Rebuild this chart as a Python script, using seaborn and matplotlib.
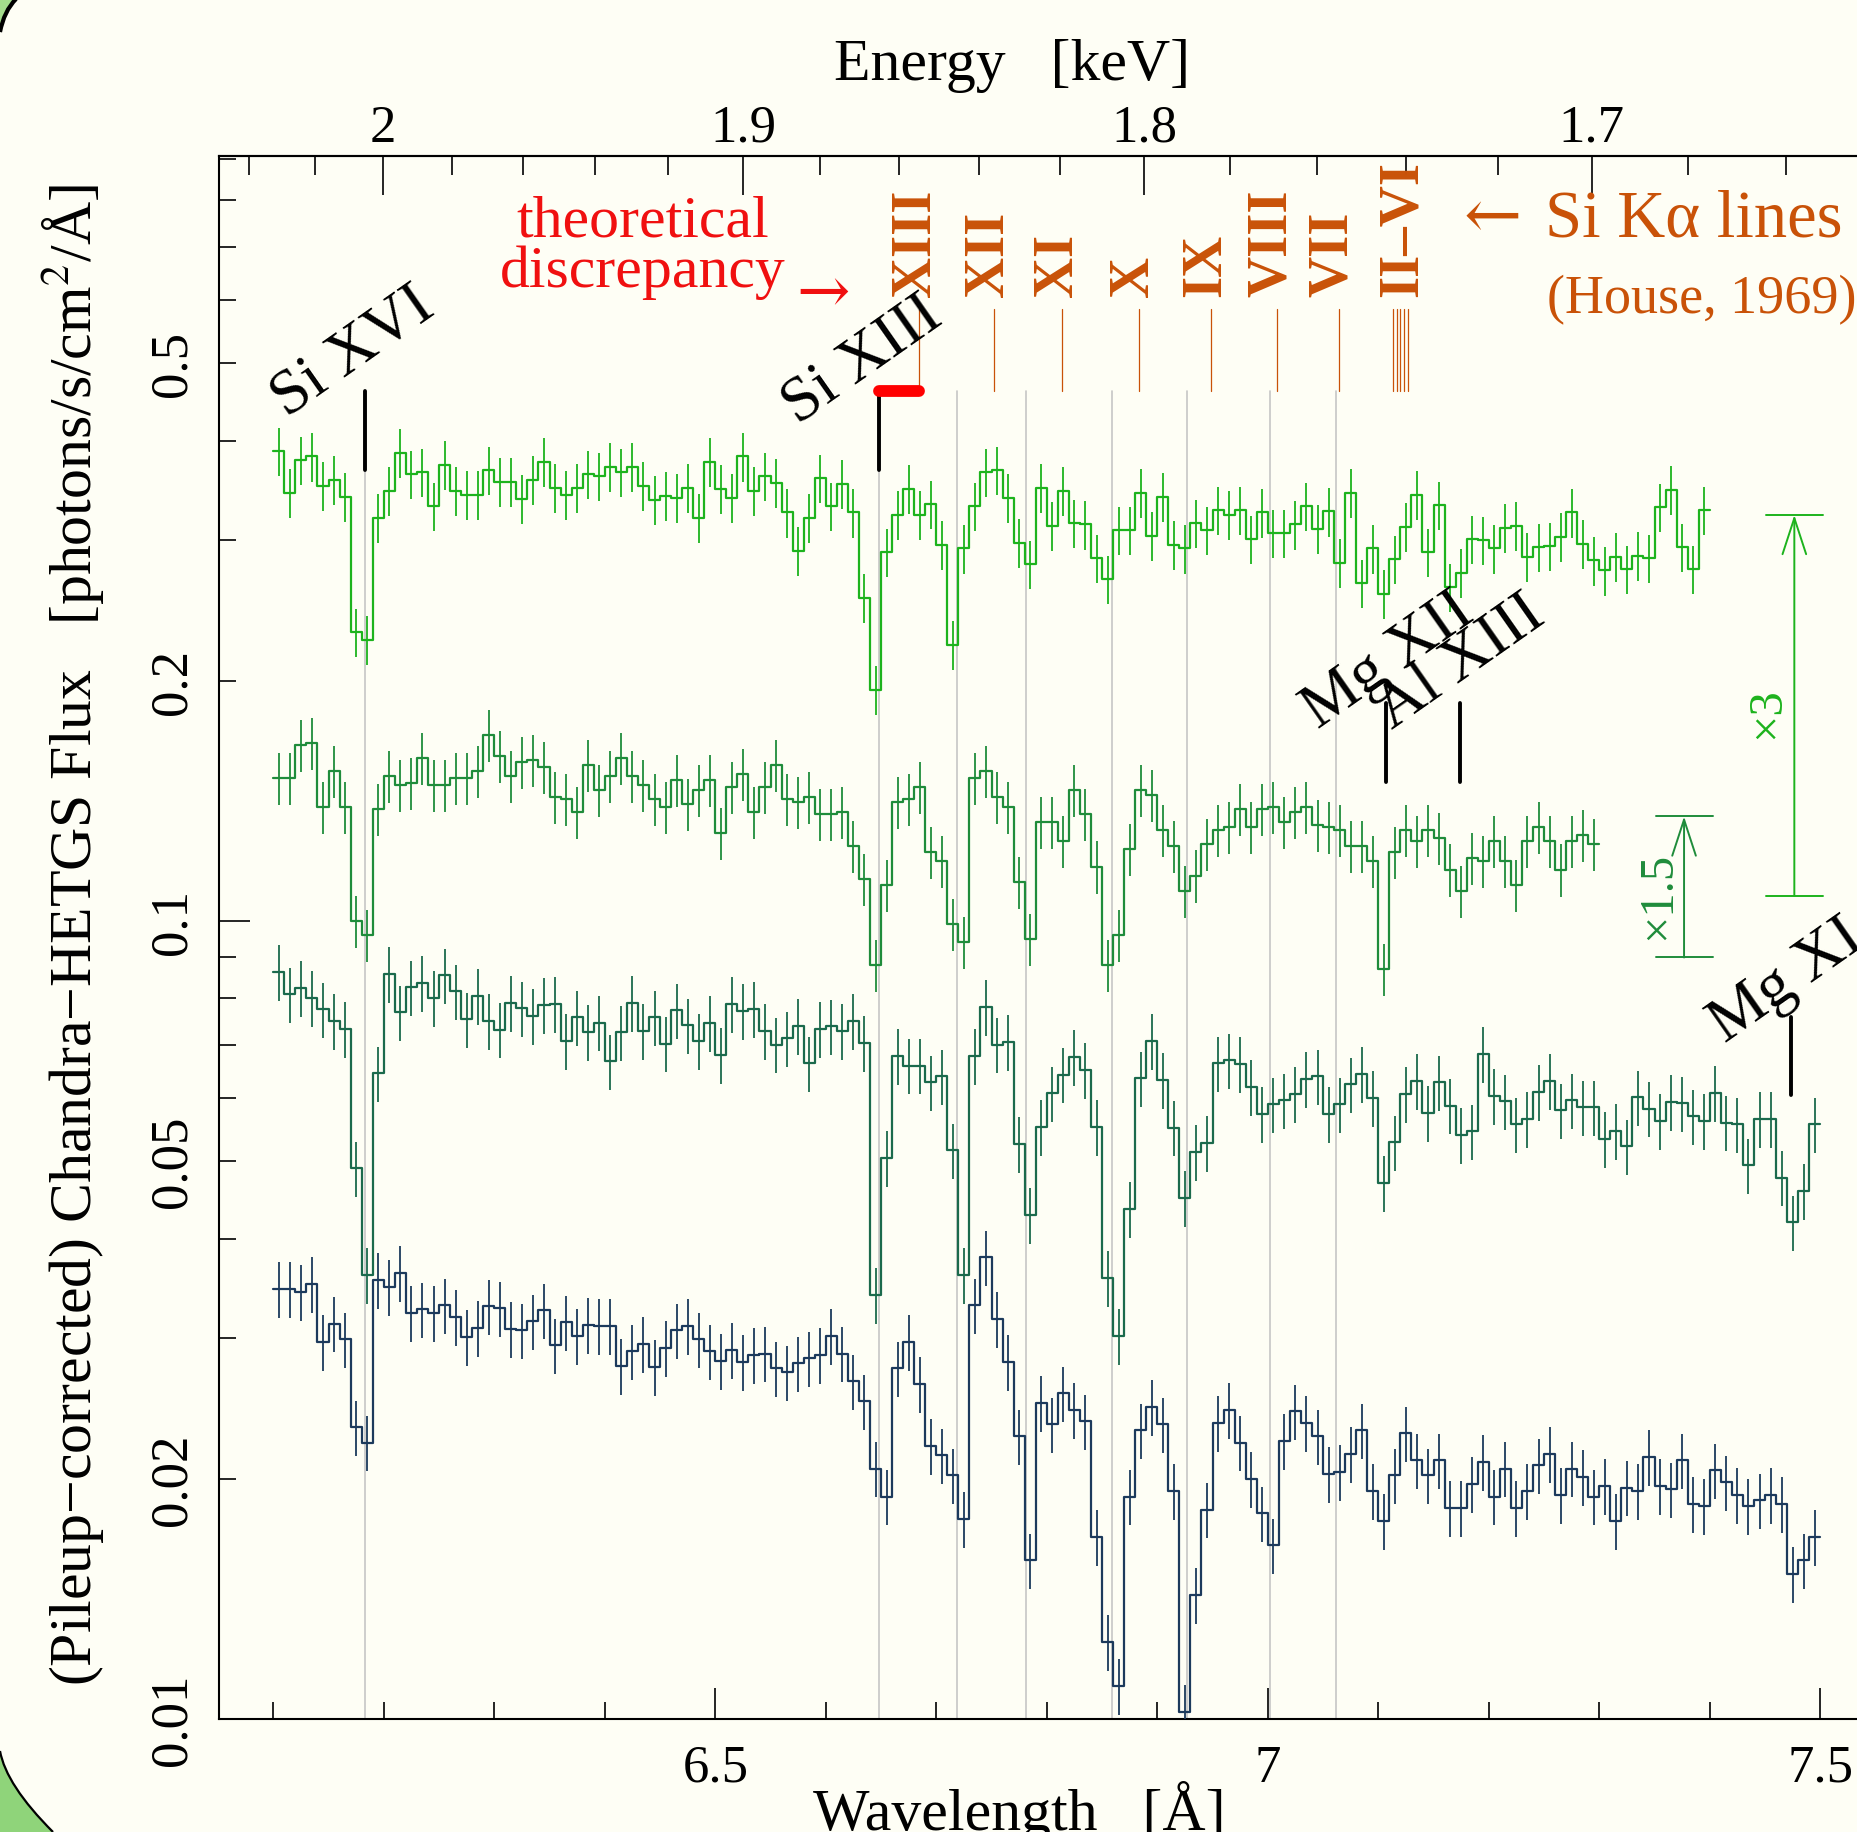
import numpy as np
import matplotlib
matplotlib.use("Agg")
import matplotlib.pyplot as plt
import seaborn as sns
from matplotlib.path import Path
from matplotlib.patches import PathPatch

# ---------------- data ----------------
BIN_WIDTH = 0.01        # Angstrom
LAMBDA_START = 6.10     # first bin edge of every spectrum
HC = 12.3984            # keV * Angstrom

# top spectrum (bright green), 6.10 - 7.40 A
flux_s1 = [0.388, 0.344, 0.378, 0.382, 0.351, 0.357, 0.340, 0.230, 0.225, 0.320,
           0.346, 0.386, 0.363, 0.365, 0.331, 0.373, 0.346, 0.342, 0.342, 0.367,
           0.355, 0.355, 0.338, 0.357, 0.376, 0.349, 0.342, 0.349, 0.363, 0.361,
           0.371, 0.365, 0.371, 0.351, 0.337, 0.341, 0.339, 0.349, 0.320, 0.376,
           0.348, 0.339, 0.382, 0.346, 0.361, 0.354, 0.325, 0.291, 0.320, 0.359,
           0.331, 0.353, 0.325, 0.254, 0.195, 0.290, 0.323, 0.348, 0.323, 0.333,
           0.296, 0.222, 0.293, 0.331, 0.365, 0.367, 0.339, 0.298, 0.280, 0.349,
           0.313, 0.346, 0.315, 0.314, 0.285, 0.268, 0.309, 0.309, 0.344, 0.304,
           0.340, 0.296, 0.293, 0.315, 0.309, 0.327, 0.323, 0.327, 0.301, 0.325,
           0.306, 0.306, 0.314, 0.331, 0.310, 0.326, 0.281, 0.344, 0.265, 0.293,
           0.257, 0.284, 0.312, 0.342, 0.290, 0.332, 0.262, 0.273, 0.301, 0.300,
           0.293, 0.311, 0.313, 0.286, 0.294, 0.295, 0.303, 0.325, 0.297, 0.283,
           0.275, 0.286, 0.276, 0.287, 0.285, 0.330, 0.347, 0.294, 0.276, 0.327]

# second spectrum (medium green), 6.10 - 7.30 A
flux_s2 = [0.151, 0.151, 0.166, 0.167, 0.139, 0.154, 0.139, 0.100, 0.096, 0.138,
           0.152, 0.148, 0.149, 0.160, 0.148, 0.148, 0.151, 0.151, 0.154, 0.171,
           0.161, 0.152, 0.158, 0.159, 0.156, 0.143, 0.142, 0.137, 0.157, 0.146,
           0.152, 0.160, 0.152, 0.148, 0.142, 0.139, 0.150, 0.140, 0.146, 0.150,
           0.129, 0.147, 0.153, 0.137, 0.147, 0.157, 0.142, 0.141, 0.143, 0.136,
           0.136, 0.137, 0.124, 0.113, 0.088, 0.111, 0.141, 0.142, 0.147, 0.122,
           0.119, 0.099, 0.094, 0.151, 0.154, 0.143, 0.139, 0.112, 0.095, 0.133,
           0.133, 0.126, 0.146, 0.136, 0.117, 0.088, 0.096, 0.123, 0.146, 0.144,
           0.130, 0.124, 0.109, 0.114, 0.125, 0.130, 0.131, 0.138, 0.131, 0.138,
           0.139, 0.133, 0.137, 0.139, 0.132, 0.131, 0.130, 0.124, 0.124, 0.119,
           0.087, 0.122, 0.130, 0.126, 0.130, 0.127, 0.116, 0.109, 0.120, 0.119,
           0.126, 0.119, 0.111, 0.126, 0.131, 0.126, 0.116, 0.126, 0.128, 0.125]

# third spectrum (teal green), 6.10 - 7.50 A
flux_s3 = [0.0864, 0.0809, 0.0825, 0.0801, 0.0775, 0.0750, 0.0732, 0.0490, 0.0360, 0.0644,
           0.0859, 0.0768, 0.0826, 0.0836, 0.0801, 0.0855, 0.0816, 0.0753, 0.0805, 0.0750,
           0.0731, 0.0789, 0.0777, 0.0761, 0.0785, 0.0787, 0.0708, 0.0757, 0.0726, 0.0746,
           0.0667, 0.0725, 0.0789, 0.0728, 0.0757, 0.0702, 0.0773, 0.0740, 0.0708, 0.0745,
           0.0679, 0.0787, 0.0772, 0.0776, 0.0728, 0.0700, 0.0713, 0.0739, 0.0663, 0.0732,
           0.0738, 0.0728, 0.0750, 0.0704, 0.0340, 0.0505, 0.0677, 0.0659, 0.0659, 0.0628,
           0.0639, 0.0516, 0.0360, 0.0677, 0.0780, 0.0700, 0.0706, 0.0526, 0.0428, 0.0552,
           0.0608, 0.0642, 0.0676, 0.0651, 0.0552, 0.0357, 0.0302, 0.0436, 0.0635, 0.0707,
           0.0632, 0.0551, 0.0450, 0.0514, 0.0527, 0.0663, 0.0669, 0.0662, 0.0620, 0.0573,
           0.0589, 0.0596, 0.0607, 0.0634, 0.0639, 0.0573, 0.0589, 0.0624, 0.0643, 0.0600,
           0.0470, 0.0528, 0.0607, 0.0630, 0.0575, 0.0628, 0.0587, 0.0539, 0.0545, 0.0681,
           0.0604, 0.0594, 0.0556, 0.0565, 0.0611, 0.0630, 0.0579, 0.0596, 0.0584, 0.0584,
           0.0533, 0.0546, 0.0522, 0.0601, 0.0582, 0.0562, 0.0593, 0.0591, 0.0569, 0.0562,
           0.0609, 0.0559, 0.0556, 0.0494, 0.0565, 0.0565, 0.0477, 0.0419, 0.0459, 0.0556]

# bottom spectrum (dark blue), 6.10 - 7.50 A
flux_s4 = [0.0346, 0.0346, 0.0343, 0.0351, 0.0297, 0.0313, 0.0299, 0.0232, 0.0222, 0.0355,
           0.0348, 0.0362, 0.0323, 0.0326, 0.0323, 0.0330, 0.0319, 0.0301, 0.0309, 0.0329,
           0.0327, 0.0308, 0.0307, 0.0315, 0.0325, 0.0294, 0.0314, 0.0302, 0.0312, 0.0311,
           0.0311, 0.0277, 0.0289, 0.0295, 0.0276, 0.0292, 0.0307, 0.0311, 0.0299, 0.0289,
           0.0281, 0.0290, 0.0280, 0.0286, 0.0287, 0.0275, 0.0272, 0.0279, 0.0283, 0.0286,
           0.0302, 0.0287, 0.0265, 0.0250, 0.0206, 0.0190, 0.0275, 0.0297, 0.0263, 0.0220,
           0.0214, 0.0202, 0.0178, 0.0330, 0.0379, 0.0317, 0.0280, 0.0226, 0.0158, 0.0249,
           0.0234, 0.0256, 0.0244, 0.0236, 0.0169, 0.0125, 0.0110, 0.0190, 0.0230, 0.0246,
           0.0234, 0.0193, 0.0102, 0.0143, 0.0183, 0.0235, 0.0244, 0.0222, 0.0200, 0.0181,
           0.0165, 0.0223, 0.0243, 0.0235, 0.0226, 0.0203, 0.0204, 0.0215, 0.0230, 0.0193,
           0.0177, 0.0202, 0.0228, 0.0211, 0.0202, 0.0211, 0.0184, 0.0184, 0.0197, 0.0210,
           0.0190, 0.0206, 0.0184, 0.0193, 0.0208, 0.0215, 0.0191, 0.0206, 0.0201, 0.0190,
           0.0196, 0.0177, 0.0195, 0.0193, 0.0213, 0.0196, 0.0194, 0.0211, 0.0186, 0.0185,
           0.0205, 0.0198, 0.0191, 0.0185, 0.0188, 0.0191, 0.0186, 0.0152, 0.0158, 0.0169]

relative_errors = [0.07, 0.075, 0.08, 0.08]

# observed Si line positions (grey guide lines)
si_obs_lines = [6.183, 6.648, 6.719, 6.781, 6.859, 6.927, 7.002, 7.062]
# theoretical Si K-alpha lines (House 1969)
house_lines = [6.684, 6.752, 6.814, 6.883, 6.949, 7.008, 7.064,
               7.113, 7.1165, 7.120, 7.1235, 7.127]
house_labels = ["XIII", "XII", "XI", "X", "IX", "VIII", "VII", "II\u2013VI"]
house_label_lambda = [6.6762, 6.7423, 6.8047, 6.8735, 6.9386, 6.9984, 7.0536, 7.1169]
# identified lines
id_names = ["Si XVI", "Si XIII", "Mg XII", "Al XIII", "Mg XI"]
id_lambda = [6.183, 6.648, 7.107, 7.174, 7.4735]
id_low = [0.367, 0.367, 0.1493, 0.1493, 0.0605]
id_high = [0.4615, 0.461, 0.1876, 0.1876, 0.0758]
id_text_pos = [(6.112, 0.428), (6.575, 0.4196), (7.045, 0.174), (7.112, 0.174), (7.414, 0.0705)]

# scale factors
scale_labels = ["\u00d73", "\u00d71.5"]
scale_lambda = [7.4765, 7.3767]
scale_low = [0.1075, 0.0900]
scale_high = [0.3227, 0.1352]

# energy axis ticks
energy_major = [2.0, 1.9, 1.8, 1.7]
energy_major_labels = ["2", "1.9", "1.8", "1.7"]
energy_minor = [2.04, 2.02, 1.98, 1.96, 1.94, 1.92, 1.88, 1.86, 1.84, 1.82,
                1.78, 1.76, 1.74, 1.72, 1.68, 1.66, 1.64]

# ---------------- style ----------------
W, H, DPI = 1857, 1833, 100
BG = "#fefef5"
C1, C2, C3, C4 = "#1db31d", "#1f8c3b", "#1b6a4c", "#1c3a5c"
ORANGE = "#c95208"
RED = "#f01010"

sns.set_theme(style="ticks")
plt.rcParams["font.family"] = ["Liberation Serif", "DejaVu Serif"]
plt.rcParams["mathtext.fontset"] = "stix"
plt.rcParams["axes.linewidth"] = 1.5

fig = plt.figure(figsize=(W / DPI, H / DPI), dpi=DPI, facecolor=BG)
x_left_px, x_right_px = 218.6, 1930.8
ax = fig.add_axes([x_left_px / W, 1 - 1720 / H, (x_right_px - x_left_px) / W, (1720 - 157) / H])
ax.set_facecolor(BG)

spectra = [flux_s1, flux_s2, flux_s3, flux_s4]
colors = [C1, C2, C3, C4]
for flux, col, rel in zip(spectra, colors, relative_errors):
    flux = np.asarray(flux)
    edges = LAMBDA_START + BIN_WIDTH * np.arange(len(flux) + 1)
    centers = 0.5 * (edges[:-1] + edges[1:])
    xs = np.repeat(edges, 2)[1:-1]
    ys = np.repeat(flux, 2)
    sns.lineplot(x=xs, y=ys, sort=False, estimator=None, color=col,
                 linewidth=1.6, ax=ax, zorder=3)
    ax.errorbar(centers, flux, yerr=rel * flux, fmt="none", ecolor=col,
                elinewidth=1.3, capsize=0, zorder=3)

ax.set_yscale("log")
ax.set_xlim(6.0505, 7.6)
ax.set_ylim(0.01, 0.909)

# grey guide lines
for i, lam in enumerate(si_obs_lines):
    top = 0.367 if i < 2 else 0.461
    ax.plot([lam, lam], [0.001, top], color="#c6c6c6", lw=1.2, zorder=1)

# theoretical lines
for lam in house_lines:
    ax.plot([lam, lam], [0.461, 0.585], color=ORANGE, lw=0.9, zorder=2)
for lab, lam in zip(house_labels, house_label_lambda):
    ax.text(lam, 0.607, lab, rotation=90, rotation_mode="anchor", ha="left",
            va="center_baseline", fontsize=41, fontweight="bold", color=ORANGE)

# red discrepancy bar
ax.plot([si_obs_lines[1], house_lines[0]], [0.461, 0.461], color="red", lw=8.5,
        solid_capstyle="round", zorder=5)

# identified line markers
for name, lam, lo, hi, pos in zip(id_names, id_lambda, id_low, id_high, id_text_pos):
    ax.plot([lam, lam], [lo, hi], color="black", lw=2.8, solid_capstyle="round", zorder=4)
    ax.text(pos[0], pos[1], name, rotation=35, rotation_mode="anchor", ha="left",
            va="baseline", fontsize=46, color="black", zorder=6)

# annotation texts
ax.text(6.4342, 0.722, "theoretical", ha="center", va="baseline", fontsize=43, color=RED)
ax.text(6.4342, 0.6248, "discrepancy", ha="center", va="baseline", fontsize=43, color=RED)
ax.text(6.5731, 0.6105, "\u2192", ha="left", va="center", fontsize=46, color=RED,
        family=["DejaVu Serif"])
ax.text(7.1767, 0.760, "\u2190", ha="left", va="center", fontsize=50, color=ORANGE,
        family=["DejaVu Serif"])
ax.text(7.2509, 0.722, "Si K\u03b1 lines", ha="left", va="baseline", fontsize=48, color=ORANGE)
ax.text(7.2527, 0.5797, "(House, 1969)", ha="left", va="baseline", fontsize=39, color=ORANGE)

# scale-factor arrows
for lab, lam, lo, hi, col, tx in zip(scale_labels, scale_lambda, scale_low, scale_high,
                                    [C1, C2], [(7.4518, 0.1828), (7.3534, 0.1078)]):
    ax.annotate("", xy=(lam, hi), xytext=(lam, lo),
                arrowprops=dict(arrowstyle="->,head_length=2.6,head_width=0.85",
                                color=col, lw=1.4, shrinkA=0, shrinkB=0, mutation_scale=10))
    for yv in (lo, hi):
        ax.plot([lam - 0.0258, lam + 0.0258], [yv, yv], color=col, lw=1.4)
    ax.text(tx[0], tx[1], lab, rotation=90, ha="center", va="center", fontsize=35, color=col)

# ---------------- axes / ticks ----------------
ax.spines["right"].set_visible(False)
for s in ["left", "bottom", "top"]:
    ax.spines[s].set_color("black")
    ax.spines[s].set_linewidth(1.5)

ax.set_xticks([6.5, 7.0, 7.5], labels=["6.5", "7", "7.5"])
ax.set_xticks([v for v in np.round(np.arange(6.1, 7.61, 0.1), 2) if v not in (6.5, 7.0, 7.5)], minor=True)
ax.tick_params(axis="x", which="both", direction="in", top=False, bottom=True,
               labelsize=38, pad=18, colors="black", width=1.2)
ax.tick_params(axis="x", which="major", length=22)
ax.tick_params(axis="x", which="minor", length=12)

y_major = [0.01, 0.1]
y_minor = [0.02, 0.03, 0.04, 0.05, 0.06, 0.07, 0.08, 0.09,
           0.2, 0.3, 0.4, 0.5, 0.6, 0.7, 0.8, 0.9]
y_minor_labels = ["0.02", "", "", "0.05", "", "", "", "",
                  "0.2", "", "", "0.5", "", "", "", ""]
ax.set_yticks(y_major, labels=["0.01", "0.1"], rotation=90, va="center")
ax.set_yticks(y_minor, labels=y_minor_labels, minor=True, rotation=90, va="center")
ax.tick_params(axis="y", which="both", direction="in", left=True, right=False,
               labelsize=38, pad=16, colors="black", width=1.2)
ax.tick_params(axis="y", which="major", length=22)
ax.tick_params(axis="y", which="minor", length=12)

ax.set_xlabel("Wavelength   [\u00c5]", fontsize=43, color="black")
ax.xaxis.label.set_va("baseline")
ax.xaxis.set_label_coords((1019 - x_left_px) / (x_right_px - x_left_px), (1720 - 1830) / (1720 - 157))
ax.set_ylabel("(Pileup\u2212corrected) Chandra\u2212HETGS Flux   [photons/s/cm$^{2}$/\u00c5]",
              fontsize=43, color="black")
ax.yaxis.label.set_va("baseline")
ax.yaxis.set_label_coords((91 - x_left_px) / (x_right_px - x_left_px), (1720 - 935) / (1720 - 157))


def lam2e(x):
    x = np.asarray(x, dtype=float)
    with np.errstate(divide="ignore", invalid="ignore"):
        return HC / x


sec = ax.secondary_xaxis("top", functions=(lam2e, lam2e))
sec.set_xticks(energy_major, labels=energy_major_labels)
sec.set_xticks(energy_minor, minor=True)
sec.tick_params(axis="x", which="both", direction="in", labelsize=38, pad=3,
                colors="black", width=1.2)
sec.tick_params(axis="x", which="major", length=28)
sec.tick_params(axis="x", which="minor", length=14)
sec.spines["top"].set_linewidth(1.5)
sec.set_xlabel("Energy   [keV]", fontsize=43, color="black")
sec.xaxis.label.set_va("baseline")
sec.xaxis.set_label_coords((1012 - x_left_px) / (x_right_px - x_left_px),
                           (1720 - 80) / (1720 - 157), transform=ax.transAxes)

# ---------------- slide decoration (green corners) ----------------
def fp(x, y):
    return (x / W, 1 - y / H)

tl = Path([fp(0, 0), fp(16, 0), fp(4, 12), fp(0, 33), fp(0, 0)],
          [Path.MOVETO, Path.LINETO, Path.CURVE3, Path.CURVE3, Path.CLOSEPOLY])
fig.add_artist(PathPatch(tl, transform=fig.transFigure, facecolor="#a3dc8c", edgecolor="none"))
fig.add_artist(PathPatch(Path([fp(16, 0), fp(4, 12), fp(0, 33)], [Path.MOVETO, Path.CURVE3, Path.CURVE3]),
                         transform=fig.transFigure, facecolor="none", edgecolor="black", lw=3))
bl = Path([fp(0, 1752), fp(6, 1786), fp(53, 1833), fp(0, 1833), fp(0, 1752)],
          [Path.MOVETO, Path.CURVE3, Path.CURVE3, Path.LINETO, Path.CLOSEPOLY])
fig.add_artist(PathPatch(bl, transform=fig.transFigure, facecolor="#8fd47a", edgecolor="none"))
fig.add_artist(PathPatch(Path([fp(0, 1752), fp(6, 1786), fp(53, 1833)], [Path.MOVETO, Path.CURVE3, Path.CURVE3]),
                         transform=fig.transFigure, facecolor="none", edgecolor="black", lw=1.6))

fig.savefig("out.png", dpi=DPI, facecolor=BG)
